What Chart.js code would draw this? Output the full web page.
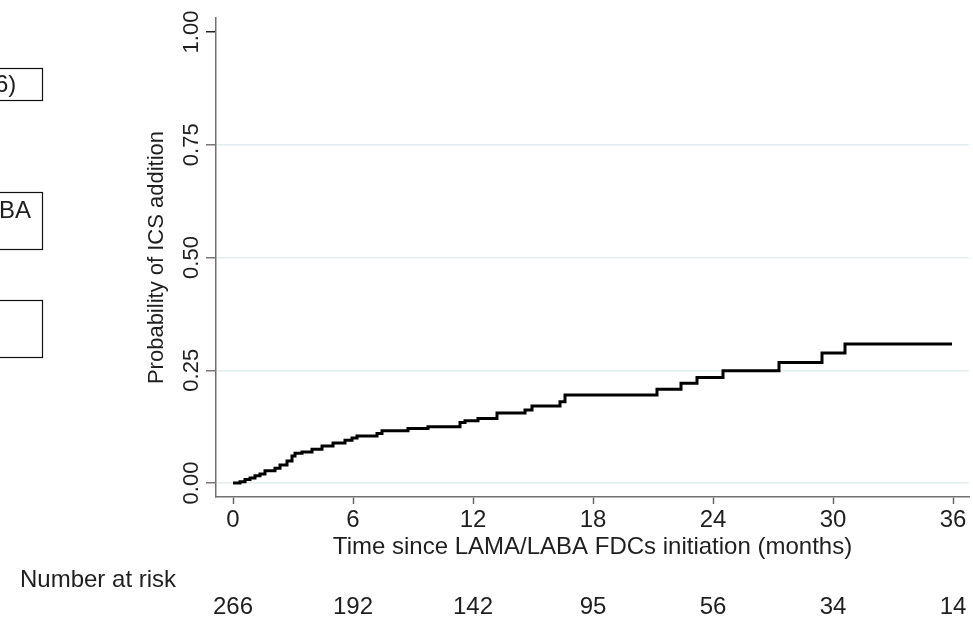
<!DOCTYPE html>
<html>
<head>
<meta charset="utf-8">
<title>Probability of ICS addition</title>
<script src="https://cdn.jsdelivr.net/npm/chart.js@4.4.1/dist/chart.umd.min.js"></script>
<style>
  html, body { margin: 0; padding: 0; background: #fff; }
  #wrap { position: relative; width: 973px; height: 620px; }
</style>
</head>
<body>
<div id="wrap"><canvas id="kmChart" width="973" height="620"></canvas></div>
<script>
// Kaplan-Meier style cumulative incidence of ICS addition
const monthTicks = [0, 6, 12, 18, 24, 30, 36];
const atRisk = [266, 192, 142, 95, 56, 34, 14];
const probTicks = [0, 0.25, 0.5, 0.75, 1];

// event times (months) and cumulative probability after each step
const eventMonths = [0, 0.35, 0.6, 0.85, 1.1, 1.35, 1.6, 2.1, 2.35, 2.7, 2.95, 3.1, 3.45, 3.95,
  4.45, 5.0, 5.6, 5.95, 6.2, 7.2, 7.45, 8.75, 9.75, 11.35, 11.6, 12.25, 13.2, 14.6, 14.95,
  16.35, 16.6, 21.2, 22.4, 23.2, 24.5, 27.3, 29.45, 30.6, 35.95];
const cumProb = [0, 0.003, 0.008, 0.011, 0.016, 0.020, 0.027, 0.033, 0.040, 0.049, 0.060, 0.066,
  0.069, 0.075, 0.082, 0.089, 0.095, 0.100, 0.104, 0.110, 0.116, 0.121, 0.125, 0.134, 0.138,
  0.143, 0.155, 0.162, 0.171, 0.180, 0.195, 0.208, 0.221, 0.234, 0.249, 0.267, 0.288, 0.308, 0.308];

const FONT = '"Liberation Sans", Arial, Helvetica, sans-serif';
const TEXT = '#1f1f1f';
Chart.defaults.font.family = FONT;
Chart.defaults.color = TEXT;

// rotated y labels, the at-risk table and the flow boxes on the left edge
const extrasPlugin = {
  id: 'extras',
  afterDraw(chart) {
    const ctx = chart.ctx;
    const xs = chart.scales.x;
    const ys = chart.scales.y;
    ctx.save();
    ctx.fillStyle = TEXT;

    ctx.font = '22px ' + FONT;
    ctx.textAlign = 'center';
    ctx.textBaseline = 'middle';
    probTicks.forEach(v => {
      ctx.save();
      ctx.translate(192, ys.getPixelForValue(v));
      ctx.rotate(-Math.PI / 2);
      ctx.fillText(v.toFixed(2), 0, 0);
      ctx.restore();
    });

    ctx.font = '24px ' + FONT;
    ctx.textAlign = 'left';
    ctx.fillText('Number at risk', 20, 580);
    ctx.textAlign = 'center';
    atRisk.forEach((n, i) => {
      ctx.fillText(String(n), xs.getPixelForValue(monthTicks[i]), 607);
    });

    ctx.strokeStyle = '#111';
    ctx.lineWidth = 1.2;
    ctx.strokeRect(-5, 68.5, 47.5, 32);
    ctx.strokeRect(-5, 192.5, 47.5, 57);
    ctx.strokeRect(-5, 300.5, 47.5, 57);
    ctx.textAlign = 'left';
    ctx.fillText('6)', -5, 85);
    ctx.fillText('BA', -1, 211);
    ctx.restore();
  }
};

new Chart(document.getElementById('kmChart'), {
  type: 'line',
  data: {
    datasets: [{
      data: eventMonths.map((t, i) => ({ x: t, y: cumProb[i] })),
      borderColor: '#000',
      borderWidth: 3,
      stepped: 'before',
      pointRadius: 0,
      fill: false
    }]
  },
  options: {
    responsive: false,
    animation: false,
    layout: { padding: { left: 0, top: 18, right: 4, bottom: 0 } },
    plugins: { legend: { display: false }, tooltip: { enabled: false } },
    scales: {
      x: {
        type: 'linear',
        min: -0.85,
        max: 36.8,
        afterBuildTicks: s => { s.ticks = monthTicks.map(v => ({ value: v })); },
        afterFit: s => { s.height = 123; },
        grid: { drawOnChartArea: false, tickLength: 7, tickColor: '#666', tickWidth: 1.5 },
        border: { color: '#707070', width: 1.5 },
        ticks: { color: TEXT, font: { size: 24 }, padding: 2, maxRotation: 0, autoSkip: false },
        title: {
          display: true,
          text: 'Time since LAMA/LABA FDCs initiation (months)',
          color: TEXT,
          font: { size: 24 },
          padding: { top: 0, bottom: 58 }
        }
      },
      y: {
        min: -0.031,
        max: 1.031,
        afterBuildTicks: s => { s.ticks = probTicks.map(v => ({ value: v })); },
        afterFit: s => { s.width = 216; },
        grid: {
          color: c => (c.tick && c.tick.value === 1 ? 'rgba(0,0,0,0)' : '#e3ecee'),
          lineWidth: 1.5,
          tickLength: 10,
          tickColor: c => (c.tick && c.tick.value === 1 ? '#222' : '#777'),
          tickWidth: 1.5
        },
        border: { color: '#707070', width: 1.5 },
        ticks: { display: false },
        title: {
          display: true,
          text: 'Probability of ICS addition',
          color: TEXT,
          font: { size: 22 },
          padding: { top: 144, bottom: 0 }
        }
      }
    }
  },
  plugins: [extrasPlugin]
});
</script>
</body>
</html>
